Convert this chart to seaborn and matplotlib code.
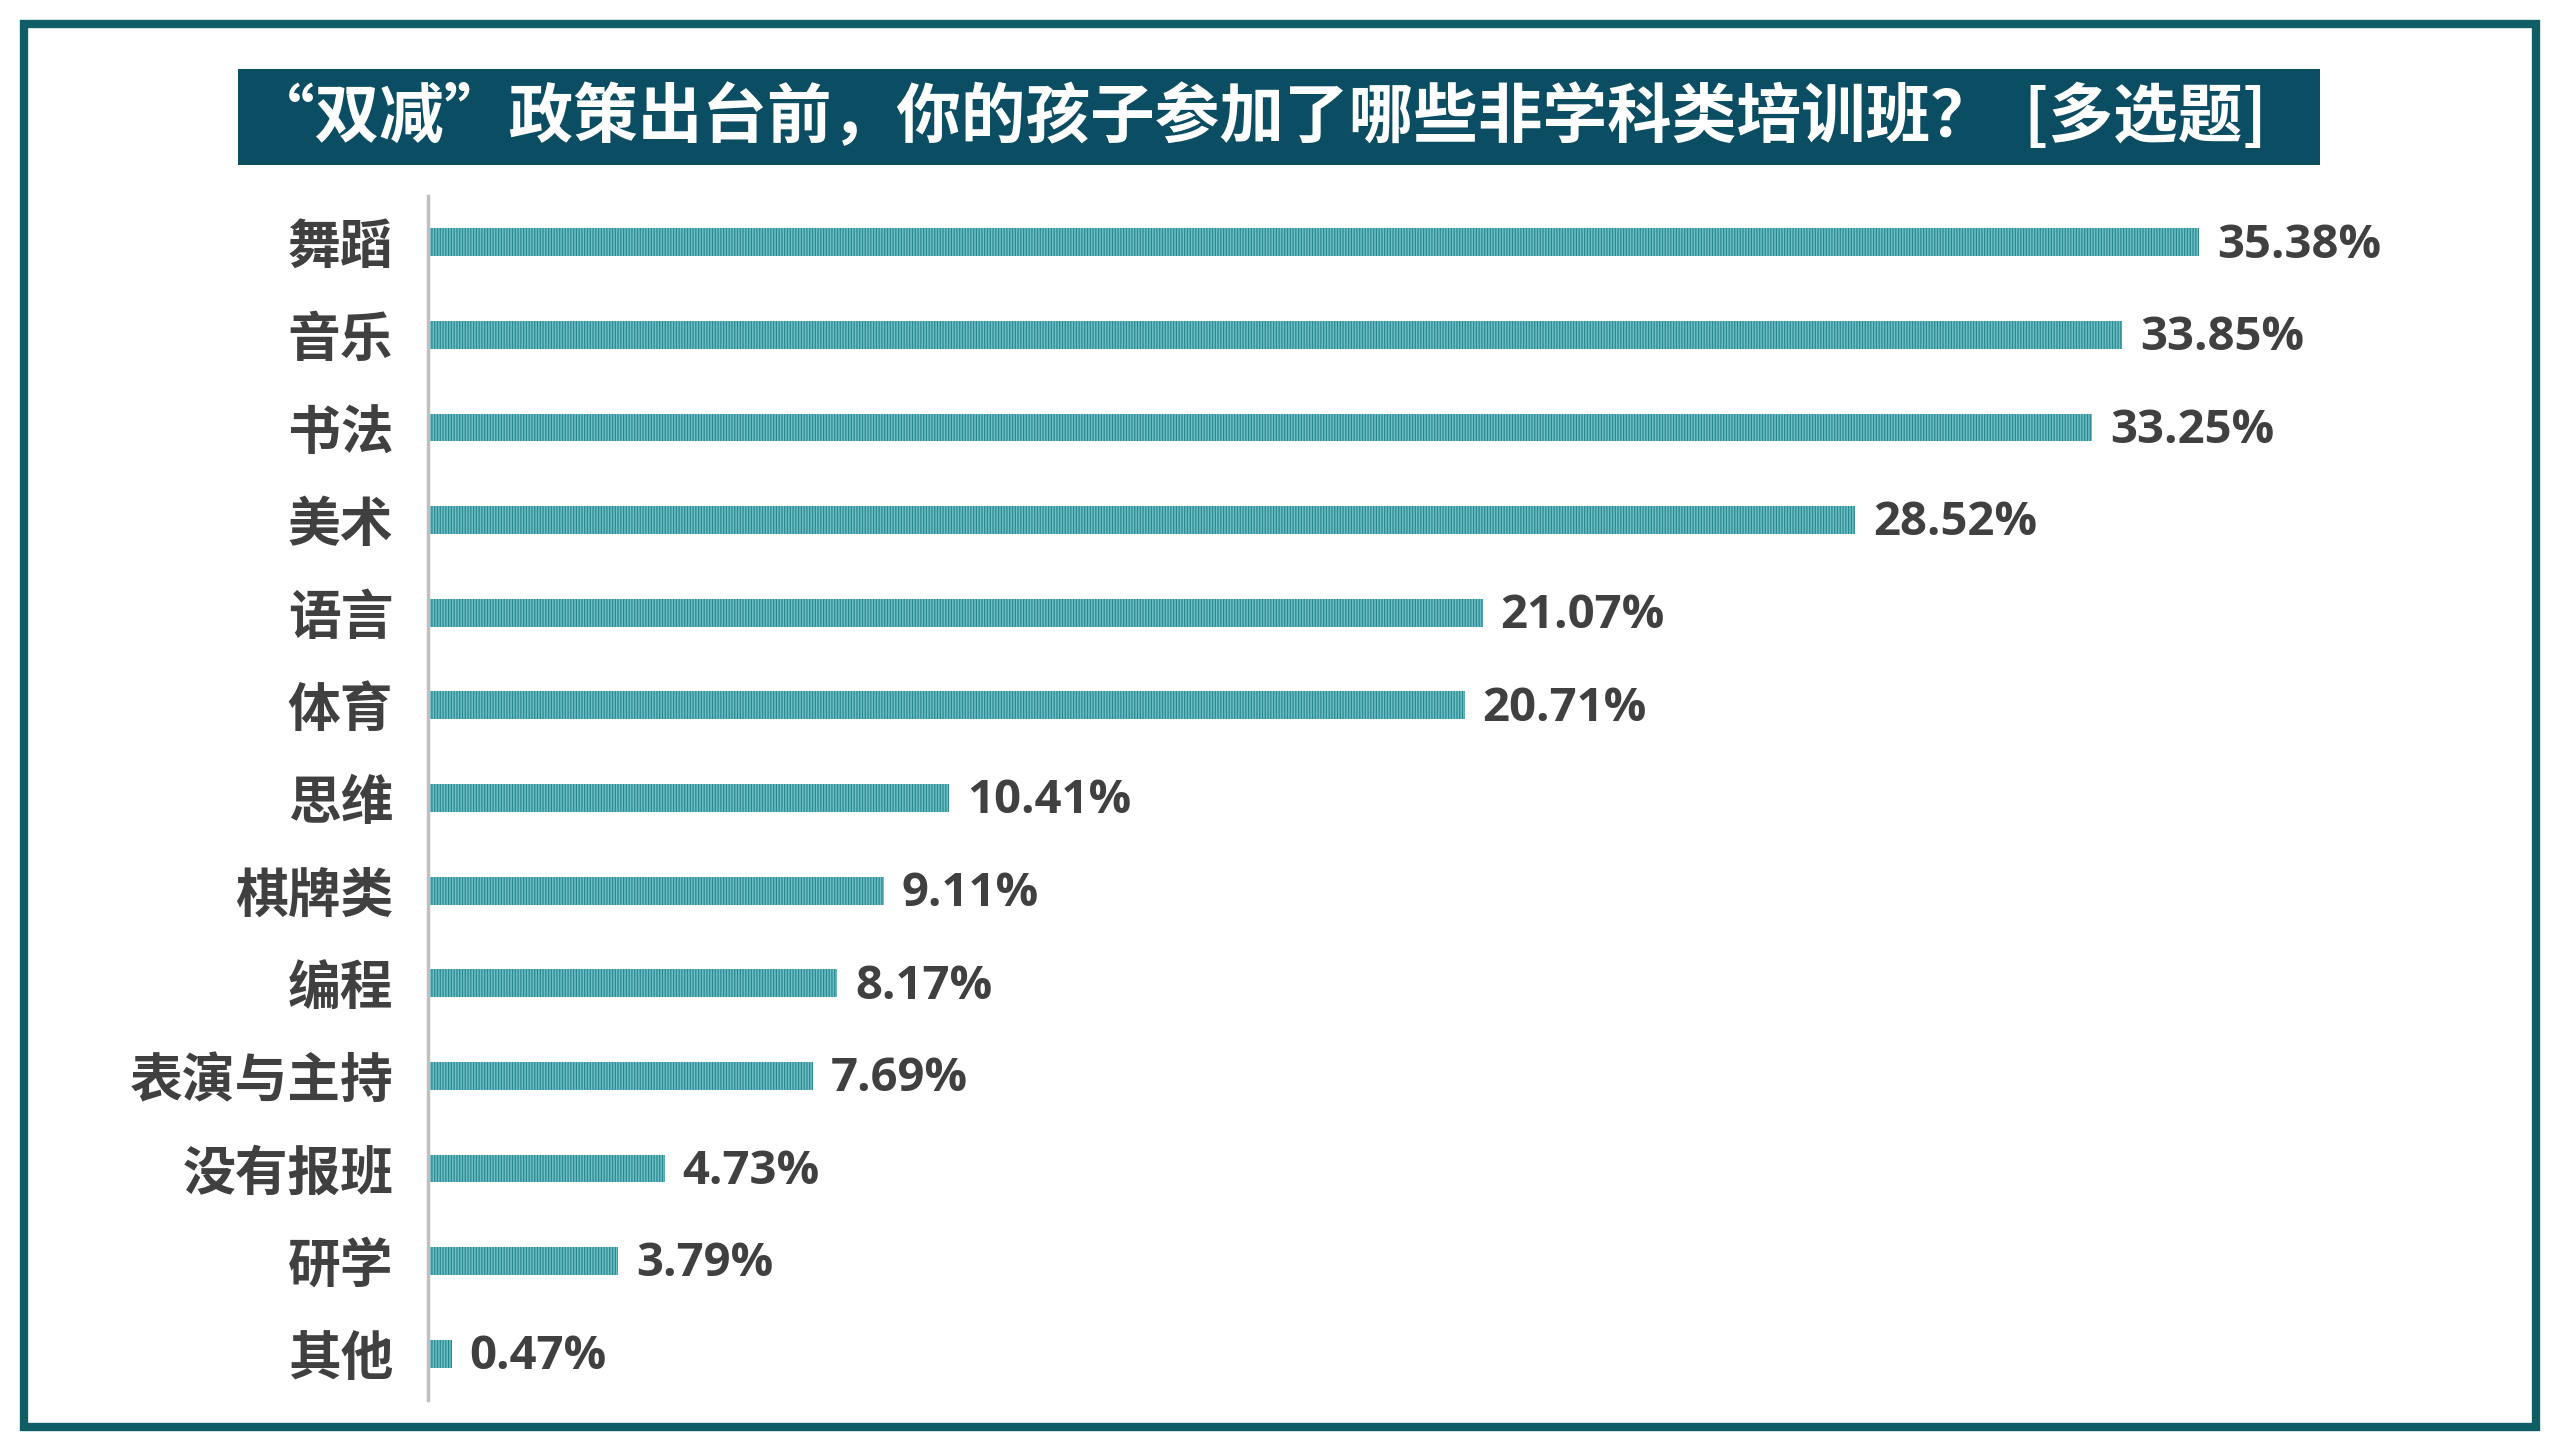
import matplotlib
matplotlib.use("Agg")
import matplotlib.pyplot as plt
from matplotlib.patches import Rectangle
import seaborn as sns
import pandas as pd

# Data
categories = ['舞蹈', '音乐', '书法', '美术', '语言', '体育', '思维',
              '棋牌类', '编程', '表演与主持', '没有报班', '研学', '其他']
percents = [35.38, 33.85, 33.25, 28.52, 21.07, 20.71, 10.41,
            9.11, 8.17, 7.69, 4.73, 3.79, 0.47]
title_text = '“双减”政策出台前，你的孩子参加了哪些非学科类培训班？  [多选题]'

sns.set_theme(style="white")
cjk = ['Noto Sans CJK SC', 'DejaVu Sans']
plt.rcParams['font.family'] = cjk
plt.rcParams['hatch.linewidth'] = 0.9

W, H = 2560, 1440
fig = plt.figure(figsize=(W / 100, H / 100), dpi=100)
fig.patch.set_facecolor('white')

# outer frame
fig.patches.append(Rectangle((24 / W, 1 - 1427 / H), (2536 - 24) / W, (1427 - 24) / H,
                             transform=fig.transFigure, fill=False,
                             edgecolor='#0f5e66', linewidth=6))

# title banner
fig.patches.append(Rectangle((238 / W, 1 - 165 / H), (2320 - 238) / W, 96 / H,
                             transform=fig.transFigure, facecolor='#0b4d62',
                             edgecolor='none'))
fig.text(1258 / W, 1 - 118 / H, title_text, color='white', fontsize=46.5,
         fontweight='heavy', ha='center', va='center', family=cjk)

# bar chart
ax = fig.add_axes([428 / W, 1 - 1400 / H, (2480 - 428) / W, (1400 - 196) / H])
df = pd.DataFrame({'category': categories, 'percent': percents})
sns.barplot(data=df, x='percent', y='category', color='#6fc0c6', width=0.3,
            saturation=1, ax=ax)
for p in ax.patches:
    p.set_hatch('||||||')
    p.set_edgecolor('#2a8891')
    p.set_linewidth(0)

for i, v in enumerate(percents):
    ax.text(v + 0.36, i + 0.03, f"{v:.2f}%", va='center', ha='left', fontsize=34,
            fontweight='bold', color='#404040', family=['Open Sans', 'DejaVu Sans'])

ax.set_xlim(0, 41)
ax.set_ylim(len(categories) - 0.5, -0.5)
ax.set_xlabel('')
ax.set_ylabel('')
ax.set_xticks([])
ax.set_facecolor('none')
for s in ['top', 'right', 'bottom']:
    ax.spines[s].set_visible(False)
ax.spines['left'].set_color('#bfbfbf')
ax.spines['left'].set_linewidth(2.5)
ax.tick_params(axis='y', length=0, pad=25)
for lbl in ax.get_yticklabels():
    lbl.set_fontsize(38)
    lbl.set_fontweight('heavy')
    lbl.set_color('#404040')
    lbl.set_family(cjk)

fig.savefig('out.png', dpi=100)
